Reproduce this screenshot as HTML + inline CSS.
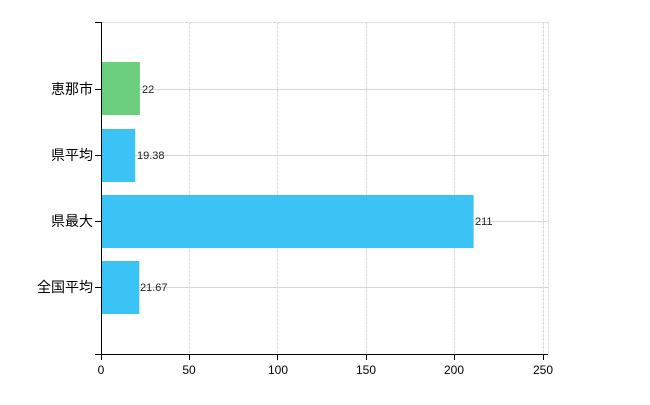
<!DOCTYPE html><html><head><style>body{margin:0;background:#fff}</style></head><body>
<svg width="650" height="400" xmlns="http://www.w3.org/2000/svg" font-family="Liberation Sans, Noto Sans CJK JP, sans-serif">
<g stroke="#dadada" stroke-width="1" stroke-dasharray="3,1">
<line x1="101" y1="22.5" x2="548" y2="22.5"/>
<line x1="189.5" y1="22" x2="189.5" y2="353"/>
<line x1="277.5" y1="22" x2="277.5" y2="353"/>
<line x1="366.5" y1="22" x2="366.5" y2="353"/>
<line x1="454.5" y1="22" x2="454.5" y2="353"/>
<line x1="543.5" y1="22" x2="543.5" y2="353"/>
<line x1="548.5" y1="22" x2="548.5" y2="353"/>
</g>
<g stroke="#d4d8d4" stroke-width="1">
<line x1="101" y1="89.5" x2="548" y2="89.5"/>
<line x1="101" y1="155.5" x2="548" y2="155.5"/>
<line x1="101" y1="221.5" x2="548" y2="221.5"/>
<line x1="101" y1="287.5" x2="548" y2="287.5"/>
</g>
<rect x="101" y="62" width="38.9" height="53" fill="#6ccf7e"/>
<rect x="101" y="129" width="34.2" height="53" fill="#3cc3f5"/>
<rect x="101" y="195" width="372.6" height="53" fill="#3cc3f5"/>
<rect x="101" y="261" width="38.3" height="53" fill="#3cc3f5"/>
<g font-size="11" fill="#222">
<text x="142" y="93">22</text>
<text x="137" y="159">19.38</text>
<text x="475" y="225">211</text>
<text x="140" y="291">21.67</text>
</g>
<g stroke="#000" stroke-width="1">
<line x1="101.5" y1="22" x2="101.5" y2="354"/>
<line x1="95" y1="354.5" x2="548" y2="354.5"/>
<line x1="95" y1="22.5" x2="101" y2="22.5"/>
<line x1="95" y1="89.5" x2="101" y2="89.5"/>
<line x1="95" y1="155.5" x2="101" y2="155.5"/>
<line x1="95" y1="221.5" x2="101" y2="221.5"/>
<line x1="95" y1="287.5" x2="101" y2="287.5"/>
<line x1="101.5" y1="354" x2="101.5" y2="360"/>
<line x1="189.5" y1="354" x2="189.5" y2="360"/>
<line x1="277.5" y1="354" x2="277.5" y2="360"/>
<line x1="366.5" y1="354" x2="366.5" y2="360"/>
<line x1="454.5" y1="354" x2="454.5" y2="360"/>
<line x1="543.5" y1="354" x2="543.5" y2="360"/>
</g>
<g font-size="14" fill="#000" text-anchor="end">
<text x="93" y="94">恵那市</text>
<text x="93" y="160">県平均</text>
<text x="93" y="226">県最大</text>
<text x="93" y="292">全国平均</text>
</g>
<g font-size="12" fill="#000" text-anchor="middle">
<text x="101" y="374">0</text>
<text x="189" y="374">50</text>
<text x="278" y="374">100</text>
<text x="366" y="374">150</text>
<text x="454" y="374">200</text>
<text x="543" y="374">250</text>
</g>
</svg>
</body></html>
